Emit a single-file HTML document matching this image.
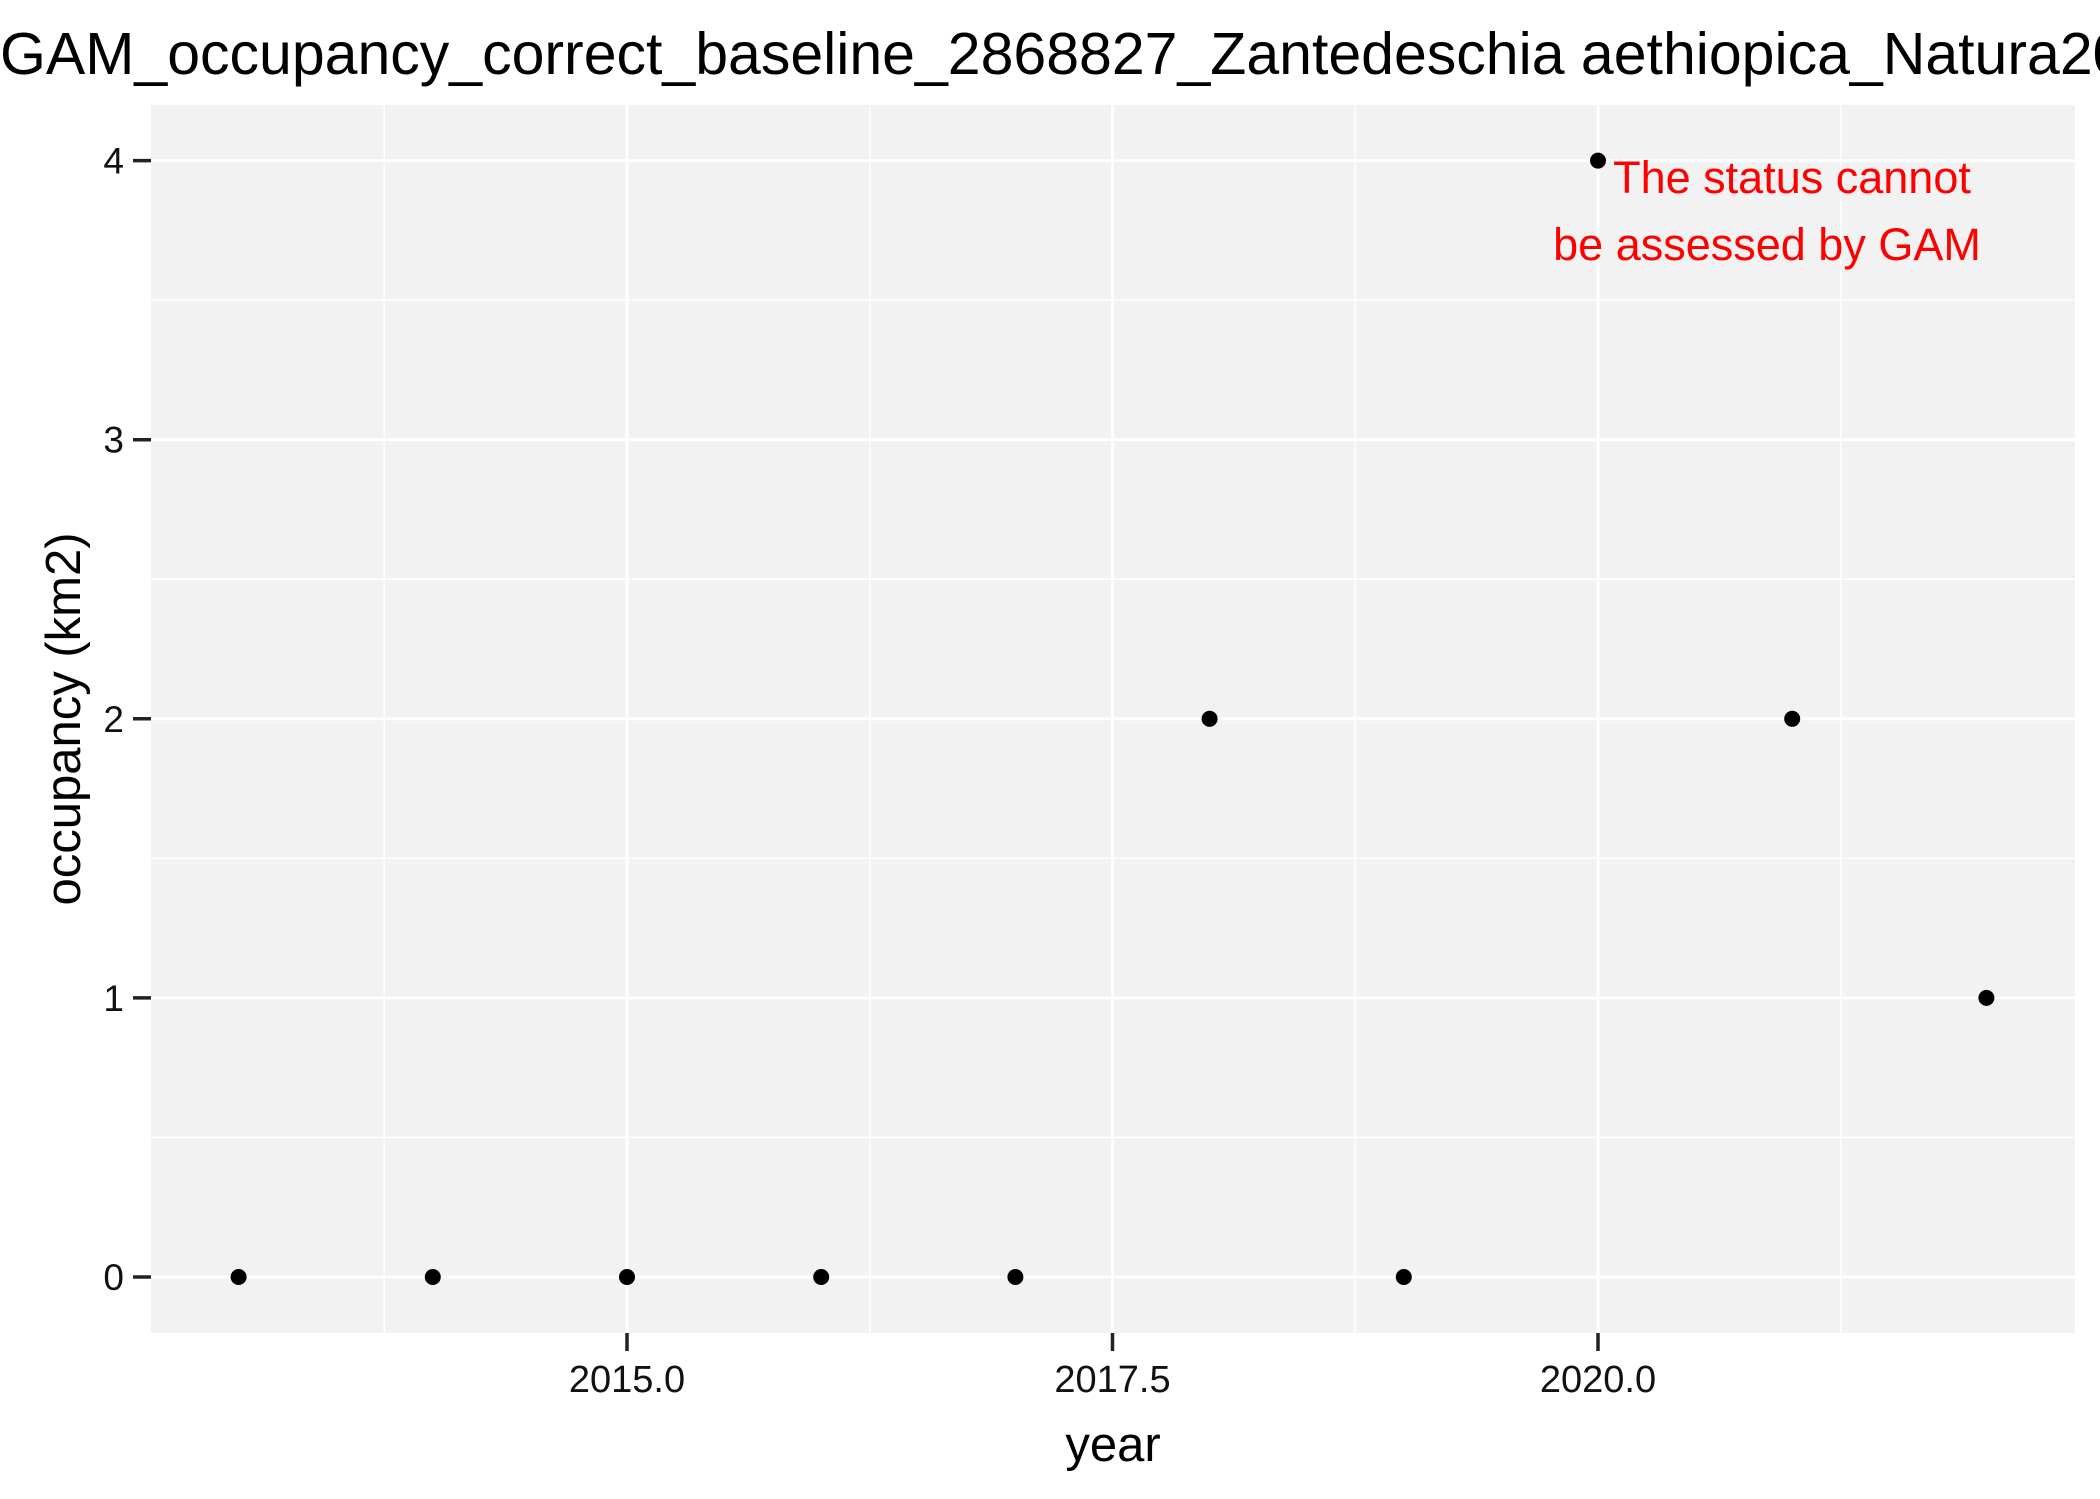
<!DOCTYPE html>
<html><head><meta charset="utf-8"><style>
html,body{margin:0;padding:0;background:#fff;overflow:hidden}
svg{display:block;font-family:"Liberation Sans",Arial,sans-serif}
</style></head><body>
<svg id="chart" width="2100" height="1499" viewBox="0 0 2100 1499">
<rect width="2100" height="1499" fill="#fff"/>
<text x="0" y="74" font-size="59" fill="#000">GAM_occupancy_correct_baseline_2868827_Zantedeschia aethiopica_Natura2000</text>
<rect x="151" y="105" width="1924" height="1228" fill="#f2f2f2"/>
<g id="grid"></g>
<g id="axes"></g>
<g id="points"></g>
<text x="1792" y="193" font-size="45" fill="#ff0000" text-anchor="middle">The status cannot</text>
<text x="1767" y="260" font-size="45" fill="#ff0000" text-anchor="middle">be assessed by GAM</text>
<text x="1113" y="1461" font-size="49" text-anchor="middle">year</text>
<text transform="translate(80,719) rotate(-90)" font-size="49" text-anchor="middle">occupancy (km2)</text>
</svg>
<script>
const years = [2013,2014,2015,2016,2017,2018,2019,2020,2021,2022];
const occupancy = [0,0,0,0,0,2,0,4,2,1];
const xTicks = [2015, 2017.5, 2020];
const xTickLabels = ["2015.0","2017.5","2020.0"];
const xMinor = [2013.75, 2016.25, 2018.75, 2021.25];
const yTicks = [0,1,2,3,4];
const yTickLabels = ["0","1","2","3","4"];
const yMinor = [0.5,1.5,2.5,3.5];

const NS="http://www.w3.org/2000/svg";
const px0=151, px1=2075, py0=105, py1=1333;
function xs(v){return 627 + (v-2015)*194.2;}
function ys(v){return 1277 - v*279.1;}
function mk(tag, attrs, parent){const e=document.createElementNS(NS,tag);for(const k in attrs)e.setAttribute(k,attrs[k]);parent.appendChild(e);return e;}
const grid=document.getElementById('grid'), axes=document.getElementById('axes'), pts=document.getElementById('points');
xMinor.forEach(v=>{const l=mk('line',{x1:xs(v),x2:xs(v),y1:py0,y2:py1,stroke:'#fff','stroke-width':1.4},grid);

});
yMinor.forEach(v=>{const l=mk('line',{x1:px0,x2:px1,y1:ys(v),y2:ys(v),stroke:'#fff','stroke-width':1.4},grid);

});
xTicks.forEach((v,i)=>{const l=mk('line',{x1:xs(v),x2:xs(v),y1:py0,y2:py1,stroke:'#fff','stroke-width':2.8},grid);


const t=mk('line',{x1:xs(v),x2:xs(v),y1:py1,y2:py1+18,stroke:'#222','stroke-width':3.5},axes);


const tx=mk('text',{x:xs(v),y:py1+59,'font-size':38,'text-anchor':'middle',fill:'#111'},axes);
tx.textContent=xTickLabels[i];

});
yTicks.forEach((v,i)=>{const l=mk('line',{x1:px0,x2:px1,y1:ys(v),y2:ys(v),stroke:'#fff','stroke-width':2.8},grid);


const t=mk('line',{x1:px0-18,x2:px0,y1:ys(v),y2:ys(v),stroke:'#222','stroke-width':3.5},axes);


const tx=mk('text',{x:px0-27,y:ys(v)+13,'font-size':37,'text-anchor':'end',fill:'#111'},axes);
tx.textContent=yTickLabels[i];

});
years.forEach((y,i)=>{const c=mk('circle',{cx:xs(y),cy:ys(occupancy[i]),r:8,fill:'#000'},pts);

});
</script>
</body></html>
